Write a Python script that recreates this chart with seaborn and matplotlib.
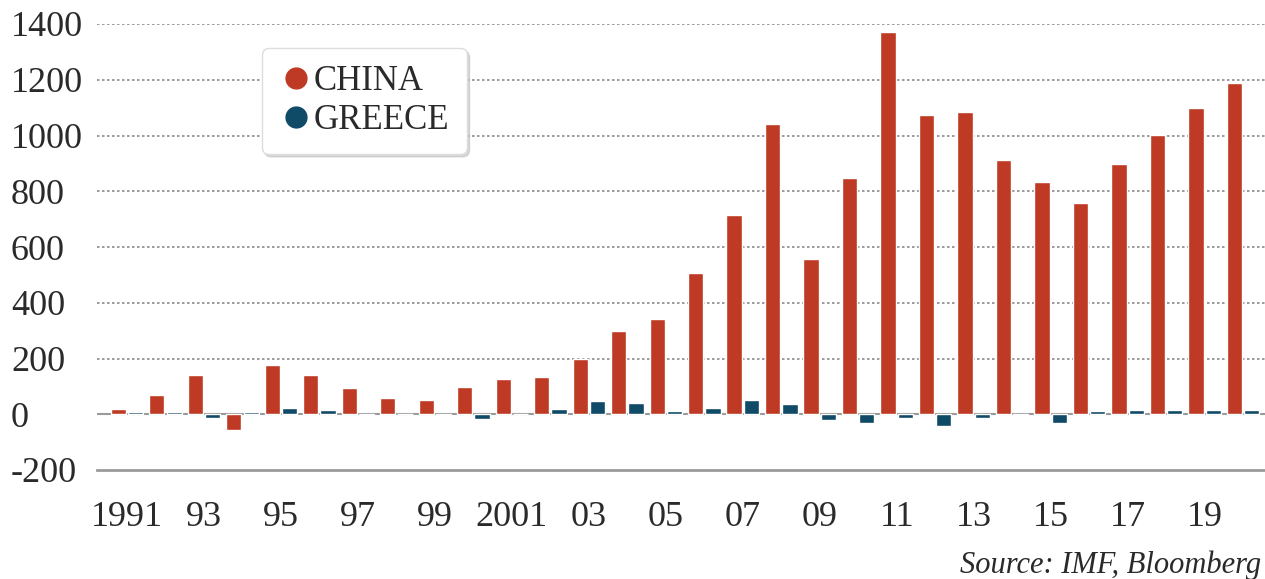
import pandas as pd
import matplotlib.pyplot as plt
import seaborn as sns
from matplotlib.lines import Line2D

# years and values
years = list(range(1991, 2021))
china = [20, 70, 140, -55, 175, 140, 95, 58, 52, 97,
         128, 133, 200, 298, 340, 505, 715, 1040, 557, 847,
         1372, 1073, 1084, 912, 833, 757, 897, 1001, 1098, 1188]
greece = [8, 8, -12, 8, 22, 14, -3, 0, -2, -18,
          2, 20, 48, 40, 12, 22, 52, 36, -20, -30,
          -14, -42, -14, -3, -33, 10, 15, 14, 15, 15]
xtick_labels = ['1991', '93', '95', '97', '99', '2001', '03', '05', '07',
                '09', '11', '13', '15', '17', '19']
yticks = [-200, 0, 200, 400, 600, 800, 1000, 1200, 1400]

red = '#bf3a24'
blue = '#0f4a66'

df = pd.DataFrame({'year': years * 2,
                   'value': china + greece,
                   'country': ['CHINA'] * len(years) + ['GREECE'] * len(years)})

sns.set_style('white')
plt.rcParams['font.family'] = ['Liberation Serif', 'DejaVu Serif']

fig = plt.figure(figsize=(12.65, 5.79), dpi=100)
ax = fig.add_axes([97 / 1265, 109 / 579, 1168 / 1265, 446 / 579])

sns.barplot(ax=ax, data=df, x='year', y='value', hue='country',
            palette={'CHINA': red, 'GREECE': blue}, saturation=1,
            width=0.9, gap=0.12, legend=False, zorder=3)

ax.set_xlim(-0.78, 29.57)
ax.set_ylim(-200, 1400)
ax.set_xlabel('')
ax.set_ylabel('')

# dotted gridlines, solid zero line
for y in yticks[2:]:
    ax.axhline(y, color='#8a8a8a', lw=1.2, ls=(0, (1.5, 1.5)), zorder=1)
ax.axhline(0, color='#9a9a9a', lw=1.5, zorder=2)

for s in ['top', 'right', 'left']:
    ax.spines[s].set_visible(False)
ax.spines['bottom'].set_color('#9a9a9a')
ax.spines['bottom'].set_linewidth(2)

ax.set_yticks(yticks)
ax.set_yticklabels([str(v) for v in yticks], fontsize=26, color='#2a2a2a')
ax.tick_params(axis='y', length=0, pad=62)
for lab in ax.get_yticklabels():
    lab.set_ha('left')

ax.set_xticks(range(0, 30, 2))
ax.set_xticklabels(xtick_labels, fontsize=26, color='#2a2a2a')
ax.tick_params(axis='x', length=5, width=1, color='#9a9a9a', direction='inout', pad=20)

handles = [Line2D([], [], marker='o', ls='', color=red, markersize=15),
           Line2D([], [], marker='o', ls='', color=blue, markersize=15)]
leg = ax.legend(handles, ['CHINA', 'GREECE'], loc='upper left',
                bbox_to_anchor=(0.141, 0.946), borderaxespad=0,
                fontsize=25, frameon=True, fancybox=True,
                shadow={'color': '0.75', 'alpha': 0.6},
                handletextpad=0.0, handlelength=1.0, labelspacing=0.15,
                borderpad=0.5)
leg.get_frame().set_edgecolor('#dddddd')
leg.get_frame().set_linewidth(1.0)
for t in leg.get_texts():
    t.set_color('#2a2a2a')

fig.text(0.997, 0.024, 'Source: IMF, Bloomberg', fontsize=22,
         style='italic', color='#2a2a2a', ha='right', va='center')

fig.savefig('out.png', dpi=100)
